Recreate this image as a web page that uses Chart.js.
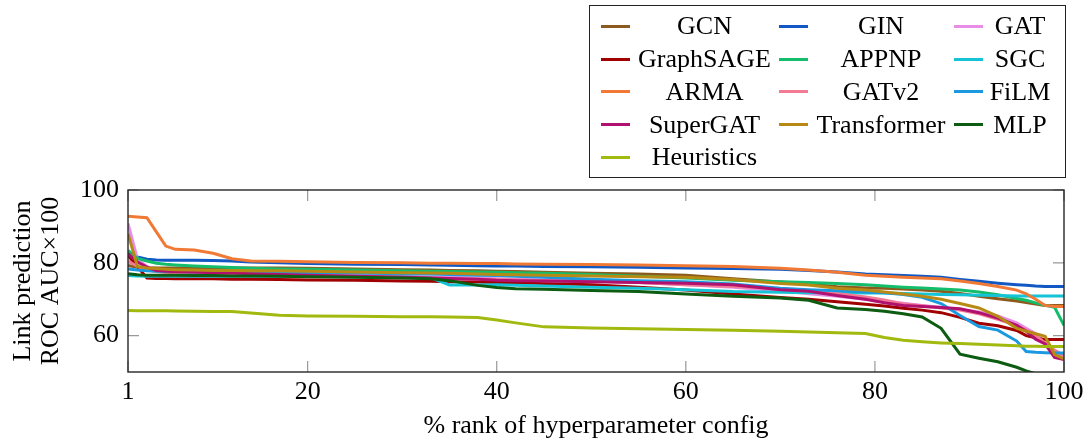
<!DOCTYPE html>
<html>
<head>
<meta charset="utf-8">
<script src="https://cdn.jsdelivr.net/npm/chart.js@4.4.1/dist/chart.umd.min.js"></script>
<style>
    html, body { margin: 0; padding: 0; background: #fff; }
    #wrap { position: relative; width: 1089px; height: 442px; }
    #chart { position: absolute; left: 0; top: 0; }
    #legend {
        position: absolute; left: 589px; top: 5px; width: 477px; height: 173px;
        box-sizing: border-box; border: 1.3px solid #222; padding: 4px 0 0 11px;
        display: grid; grid-template-columns: 178px 175px 103px; grid-auto-rows: 32.75px;
        font-family: 'Liberation Serif', 'Times New Roman', serif; font-size: 26px; color: #000;
    }
    .item { display: flex; align-items: center; }
    .swatch { width: 29px; height: 3px; flex: none; }
    .label { flex: 1; text-align: center; white-space: nowrap; }
</style>
</head>
<body>
<div id="wrap">
    <canvas id="chart" width="1089" height="442"></canvas>
    <div id="legend"></div>
</div>
<script>
// % rank of hyperparameter config (sample positions)
const rank = [1, 2, 3, 4, 5, 6, 8, 10, 12, 14, 17, 20, 25, 30, 33, 35, 38, 40, 42, 45, 50, 55, 60, 65, 70, 73, 76, 79, 81, 83, 85, 87, 89, 91, 93, 95, 96, 97, 98, 99, 100];

// Link prediction ROC AUC x100, one array per model
const gcn = [79.3, 78.8, 78.7, 78.6, 78.6, 78.6, 78.6, 78.6, 78.6, 78.6, 78.6, 78.5, 78.3, 78.1, 78.0, 77.9, 77.8, 77.7, 77.6, 77.4, 77.1, 76.9, 76.6, 75.6, 74.7, 74.2, 73.4, 73.1, 73.0, 72.8, 72.5, 72.2, 71.6, 70.8, 70.1, 69.5, 69.1, 68.7, 68.3, 68.3, 68.3];
const gin = [82.5, 81.6, 81.0, 80.8, 80.7, 80.7, 80.7, 80.6, 80.5, 80.2, 80.0, 79.8, 79.6, 79.5, 79.4, 79.3, 79.2, 79.1, 79.1, 79.0, 78.9, 78.8, 78.6, 78.4, 78.2, 77.9, 77.5, 76.9, 76.7, 76.5, 76.3, 76.0, 75.4, 74.9, 74.4, 74.0, 73.8, 73.6, 73.5, 73.5, 73.5];
const gat = [90.8, 81.0, 79.0, 78.0, 77.7, 77.5, 77.4, 77.3, 77.2, 77.1, 77.0, 76.9, 76.6, 76.3, 76.1, 76.0, 75.8, 75.6, 75.5, 75.3, 75.0, 74.6, 74.0, 73.3, 72.3, 71.5, 70.8, 70.0, 69.5, 68.9, 68.3, 67.8, 67.2, 66.5, 65.4, 63.5, 62.0, 60.5, 58.0, 55.5, 54.3];
const graphsage = [82.0, 79.0, 75.8, 75.7, 75.7, 75.6, 75.6, 75.6, 75.5, 75.5, 75.4, 75.3, 75.2, 75.0, 74.9, 74.8, 74.7, 74.6, 74.5, 74.3, 74.0, 73.3, 72.5, 71.4, 70.5, 70.0, 69.3, 68.6, 68.1, 67.5, 67.0, 66.3, 65.0, 63.4, 62.7, 61.4, 60.0, 59.4, 58.9, 58.9, 58.9];
const appnp = [83.4, 81.2, 80.5, 79.9, 79.6, 79.4, 79.1, 78.9, 78.7, 78.5, 78.3, 78.2, 78.0, 77.8, 77.7, 77.6, 77.5, 77.4, 77.3, 77.1, 76.8, 76.3, 75.8, 75.2, 74.8, 74.6, 74.3, 74.0, 73.6, 73.3, 73.1, 72.8, 72.5, 72.0, 71.2, 70.2, 69.7, 69.0, 68.3, 67.8, 62.8];
const sgc = [76.5, 76.4, 76.3, 76.3, 76.3, 76.3, 76.3, 76.3, 76.3, 76.3, 76.3, 76.3, 76.2, 76.1, 75.9, 73.9, 73.9, 74.0, 73.8, 73.6, 73.3, 73.0, 72.6, 72.1, 71.9, 71.8, 71.8, 71.7, 71.7, 71.6, 71.4, 71.3, 71.2, 71.1, 71.0, 70.9, 70.9, 70.9, 70.9, 70.9, 70.9];
const arma = [92.8, 92.6, 92.4, 88.5, 84.6, 83.7, 83.5, 82.6, 81.1, 80.5, 80.4, 80.3, 80.1, 80.0, 79.9, 79.9, 79.8, 79.8, 79.7, 79.6, 79.5, 79.4, 79.2, 79.0, 78.5, 78.0, 77.4, 76.6, 76.3, 76.0, 75.8, 75.6, 75.0, 74.3, 73.5, 72.5, 71.5, 70.0, 68.3, 68.0, 68.0];
const gatv2 = [80.5, 79.0, 78.0, 77.6, 77.4, 77.3, 77.2, 77.1, 77.0, 76.9, 76.7, 76.5, 76.3, 76.0, 75.8, 75.7, 75.5, 75.4, 75.3, 75.1, 75.0, 74.6, 74.0, 73.5, 72.8, 72.3, 71.6, 70.6, 69.8, 68.7, 68.2, 67.6, 67.0, 66.0, 64.5, 62.8, 61.5, 60.0, 58.0, 56.0, 54.5];
const film = [78.3, 78.0, 77.8, 77.7, 77.6, 77.6, 77.5, 77.5, 77.4, 77.4, 77.3, 77.3, 77.2, 77.0, 76.9, 76.8, 76.6, 76.5, 76.3, 76.0, 75.5, 75.1, 74.8, 74.2, 73.0, 72.6, 72.3, 72.0, 71.8, 71.3, 70.5, 68.8, 65.5, 62.5, 61.5, 58.5, 55.6, 55.4, 55.3, 55.2, 55.2];
const supergat = [82.5, 80.2, 78.8, 77.9, 77.7, 77.6, 77.5, 77.3, 77.2, 77.0, 76.8, 76.6, 76.3, 76.0, 75.8, 75.7, 75.5, 75.2, 75.1, 75.0, 74.8, 74.6, 74.4, 74.0, 72.6, 72.2, 71.0, 70.0, 69.0, 68.3, 68.0, 67.7, 67.4, 66.3, 64.8, 62.8, 61.2, 59.0, 57.7, 54.0, 53.4];
const transformer = [88.0, 79.0, 78.6, 78.4, 78.2, 78.1, 78.0, 77.9, 77.9, 77.8, 77.8, 77.7, 77.5, 77.3, 77.2, 77.1, 76.9, 76.8, 76.7, 76.6, 76.4, 76.2, 76.0, 75.4, 74.3, 73.9, 73.0, 72.5, 72.0, 71.4, 70.8, 70.0, 68.8, 67.6, 65.3, 62.0, 61.2, 60.5, 59.8, 54.8, 53.6];
const mlp = [77.0, 76.7, 76.6, 76.6, 76.6, 76.6, 76.5, 76.5, 76.4, 76.4, 76.3, 76.2, 76.0, 75.8, 75.6, 75.1, 73.8, 73.2, 72.9, 72.7, 72.4, 72.1, 71.4, 70.8, 70.3, 69.7, 67.6, 67.2, 66.7, 66.0, 65.1, 62.0, 54.9, 53.8, 52.8, 51.3, 50.3, 49.5, 48.5, 47.5, 46.5];
const heuristics = [66.9, 66.85, 66.8, 66.8, 66.8, 66.75, 66.7, 66.65, 66.6, 66.2, 65.6, 65.4, 65.3, 65.2, 65.15, 65.1, 65.0, 64.3, 63.5, 62.4, 62.1, 61.9, 61.7, 61.5, 61.2, 61.0, 60.8, 60.6, 59.5, 58.7, 58.3, 58.0, 57.8, 57.6, 57.4, 57.2, 57.1, 57.05, 57.0, 57.0, 57.0];

const seriesNames = ['GCN', 'GIN', 'GAT', 'GraphSAGE', 'APPNP', 'SGC', 'ARMA', 'GATv2', 'FiLM', 'SuperGAT', 'Transformer', 'MLP', 'Heuristics'];
const seriesValues = [gcn, gin, gat, graphsage, appnp, sgc, arma, gatv2, film, supergat, transformer, mlp, heuristics];
const seriesColors = ['#8c5a1c', '#1158c4', '#e88ce8', '#a00000', '#14bd6c', '#14c4d6', '#f07a35', '#f27a93', '#1b99e0', '#b0106e', '#b88a14', '#0c5c12', '#a2b90f'];

const xTicks = [1, 20, 40, 60, 80, 100];
const yTicks = [60, 80, 100];

const serif = "'Liberation Serif', 'Times New Roman', serif";

// legend box, built from the same arrays
const legendEl = document.getElementById('legend');
seriesNames.forEach((name, i) => {
    const item = document.createElement('div');
    item.className = 'item';
    item.innerHTML = `<span class="swatch" style="background:${seriesColors[i]}"></span><span class="label">${name}</span>`;
    legendEl.appendChild(item);
});

// frame and inward tick marks (pgfplots style)
const framePlugin = {
    id: 'frame',
    beforeDatasetsDraw(chart) {
        const { ctx, chartArea: a, scales: { x, y } } = chart;
        ctx.save();
        ctx.strokeStyle = '#999';
        ctx.lineWidth = 1.2;
        ctx.beginPath();
        xTicks.forEach(v => {
            const px = x.getPixelForValue(v);
            ctx.moveTo(px, a.bottom); ctx.lineTo(px, a.bottom - 11);
            ctx.moveTo(px, a.top); ctx.lineTo(px, a.top + 11);
        });
        yTicks.forEach(v => {
            const py = y.getPixelForValue(v);
            ctx.moveTo(a.left, py); ctx.lineTo(a.left + 11, py);
            ctx.moveTo(a.right, py); ctx.lineTo(a.right - 11, py);
        });
        ctx.stroke();
        ctx.restore();
    },
    afterDatasetsDraw(chart) {
        const { ctx, chartArea: a } = chart;
        ctx.save();
        ctx.strokeStyle = '#262626';
        ctx.lineWidth = 1.4;
        ctx.strokeRect(a.left, a.top, a.right - a.left, a.bottom - a.top);
        ctx.restore();
    }
};

const datasets = seriesNames.map((name, i) => ({
    label: name,
    data: rank.map((r, j) => ({ x: r, y: seriesValues[i][j] })),
    borderColor: seriesColors[i],
    backgroundColor: seriesColors[i],
    borderWidth: 3,
    pointRadius: 0,
    tension: 0,
    fill: false,
    order: seriesNames.length - i // later series drawn on top
}));

new Chart(document.getElementById('chart').getContext('2d'), {
    type: 'line',
    data: { datasets },
    plugins: [framePlugin],
    options: {
        responsive: false,
        animation: false,
        devicePixelRatio: 1,
        layout: { padding: { top: 190, right: 25, left: 0, bottom: 0 } },
        plugins: { legend: { display: false }, tooltip: { enabled: false } },
        scales: {
            x: {
                type: 'linear',
                min: 1,
                max: 100,
                afterBuildTicks: s => { s.ticks = xTicks.map(v => ({ value: v })); },
                afterFit: s => { s.height = 70; },
                grid: { display: false, drawTicks: false },
                border: { display: false },
                ticks: { color: '#000', font: { family: serif, size: 26 }, padding: 5, maxRotation: 0, autoSkip: false },
                title: {
                    display: true,
                    text: '% rank of hyperparameter config',
                    color: '#000',
                    font: { family: serif, size: 26, lineHeight: 1.08 },
                    padding: { top: 0, bottom: 2 }
                }
            },
            y: {
                min: 50,
                max: 100,
                afterBuildTicks: s => { s.ticks = yTicks.map(v => ({ value: v })); },
                afterFit: s => { s.width = 128; },
                grid: { display: false, drawTicks: false },
                border: { display: false },
                ticks: { color: '#000', font: { family: serif, size: 26 }, padding: 9 },
                title: {
                    display: true,
                    text: ['Link prediction', 'ROC AUC\u00d7100'],
                    color: '#000',
                    font: { family: serif, size: 26, lineHeight: 1.08 },
                    padding: { top: 9, bottom: 0 }
                }
            }
        }
    }
});
</script>
</body>
</html>
